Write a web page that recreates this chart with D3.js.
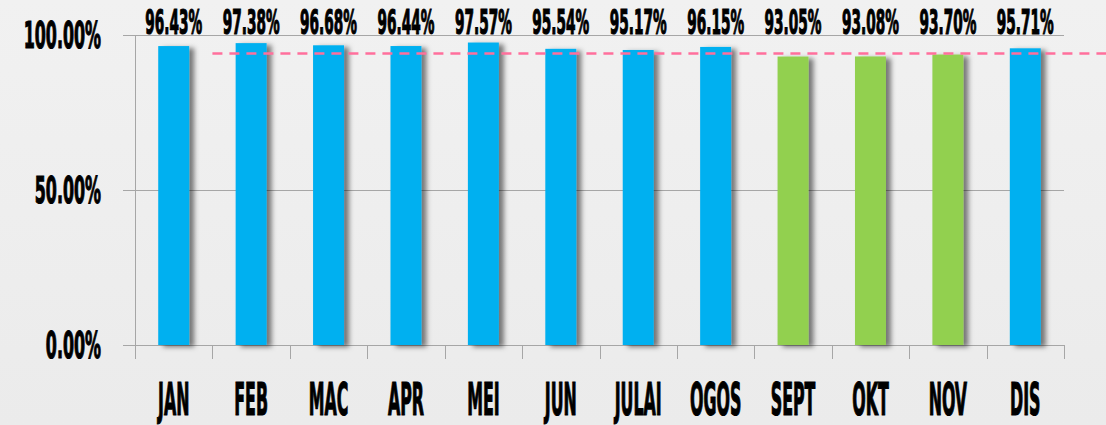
<!DOCTYPE html>
<html>
<head>
<meta charset="utf-8">
<script src="https://cdn.jsdelivr.net/npm/d3@7.9.0/dist/d3.min.js"></script>
<style>
  html, body { margin: 0; padding: 0; background: #eeeeee; }
  svg { display: block; }
  text { font-family: 'Liberation Sans Narrow', 'DejaVu Sans Condensed', sans-serif; font-weight: bold; fill: #000; stroke: #000; stroke-width: 1.2; }
</style>
</head>
<body>
<svg id="chart" width="1106" height="425"></svg>
<script>
const months = ['JAN', 'FEB', 'MAC', 'APR', 'MEI', 'JUN', 'JULAI', 'OGOS', 'SEPT', 'OKT', 'NOV', 'DIS'];
const values = [96.43, 97.38, 96.68, 96.44, 97.57, 95.54, 95.17, 96.15, 93.05, 93.08, 93.70, 95.71];
const target = 94;
const yTicks = [0, 50, 100];

const width = 1106;
const height = 425;
const margin = { top: 35, right: 42, bottom: 80, left: 135 };

const svg = d3.select('#chart');

const bg = svg.append('defs').append('linearGradient')
  .attr('id', 'bg').attr('x1', 0).attr('y1', 0).attr('x2', 0).attr('y2', 1);
bg.append('stop').attr('offset', '0%').attr('stop-color', '#f1f1f1');
bg.append('stop').attr('offset', '100%').attr('stop-color', '#ebebeb');

const shadow = svg.select('defs').append('filter')
  .attr('id', 'shadow').attr('x', '-20%').attr('y', '-5%').attr('width', '160%').attr('height', '115%');
shadow.append('feDropShadow')
  .attr('dx', 5).attr('dy', 2).attr('stdDeviation', 2.5)
  .attr('flood-color', '#000').attr('flood-opacity', 0.5);

svg.append('rect').attr('width', width).attr('height', height).attr('fill', 'url(#bg)');

const x = d3.scaleBand()
  .domain(months)
  .range([margin.left, width - margin.right])
  .paddingInner(0.6)
  .paddingOuter(0.3);

const y = d3.scaleLinear()
  .domain([0, 100])
  .range([height - margin.bottom, margin.top]);

const x0 = margin.left;
const x1 = width - margin.right;

// gridlines
svg.append('g')
  .selectAll('line')
  .data(yTicks)
  .join('line')
  .attr('x1', x0 - 12)
  .attr('x2', x1)
  .attr('y1', (d) => Math.round(y(d)) + 0.5)
  .attr('y2', (d) => Math.round(y(d)) + 0.5)
  .attr('stroke', '#a6a6a6')
  .attr('stroke-width', 1);

// y axis line
svg.append('line')
  .attr('x1', x0 + 0.5).attr('x2', x0 + 0.5)
  .attr('y1', y(100)).attr('y2', y(0) + 14)
  .attr('stroke', '#a6a6a6');

// x ticks at category boundaries
svg.append('g')
  .selectAll('line')
  .data(d3.range(1, months.length + 1))
  .join('line')
  .attr('x1', (i) => Math.round(x0 + i * (x1 - x0) / months.length) + 0.5)
  .attr('x2', (i) => Math.round(x0 + i * (x1 - x0) / months.length) + 0.5)
  .attr('y1', y(0))
  .attr('y2', y(0) + 14)
  .attr('stroke', '#a6a6a6');

// bars
svg.append('g')
  .selectAll('rect')
  .data(values)
  .join('rect')
  .attr('x', (d, i) => x(months[i]))
  .attr('y', (d) => y(d))
  .attr('width', x.bandwidth())
  .attr('height', (d) => y(0) - y(d))
  .attr('fill', (d) => (d < target ? '#92d050' : '#00b0f0'))
  .attr('filter', 'url(#shadow)');

// target line
svg.append('line')
  .attr('x1', x0 + (x1 - x0) / months.length)
  .attr('x2', width)
  .attr('y1', y(target))
  .attr('y2', y(target))
  .attr('stroke', '#ff6f9c')
  .attr('stroke-width', 2.5)
  .attr('stroke-dasharray', '10 7');

// value labels
svg.append('g')
  .selectAll('text')
  .data(values)
  .join('text')
  .attr('transform', (d, i) => `translate(${x(months[i]) + x.bandwidth() / 2},${margin.top - 1}) scale(0.46,1)`)
  .attr('text-anchor', 'middle')
  .attr('font-size', 33)
  .text((d) => d.toFixed(2) + '%');

// y tick labels
svg.append('g')
  .selectAll('text')
  .data(yTicks)
  .join('text')
  .attr('transform', (d) => `translate(101,${y(d) + 13}) scale(0.465,1)`)
  .attr('text-anchor', 'end')
  .attr('font-size', 38)
  .text((d) => d.toFixed(2) + '%');

// x labels
svg.append('g')
  .selectAll('text')
  .data(months)
  .join('text')
  .attr('transform', (d) => `translate(${x(d) + x.bandwidth() / 2},415) scale(0.4,1)`)
  .attr('text-anchor', 'middle')
  .attr('font-size', 44)
  .text((d) => d);
</script>
</body>
</html>
